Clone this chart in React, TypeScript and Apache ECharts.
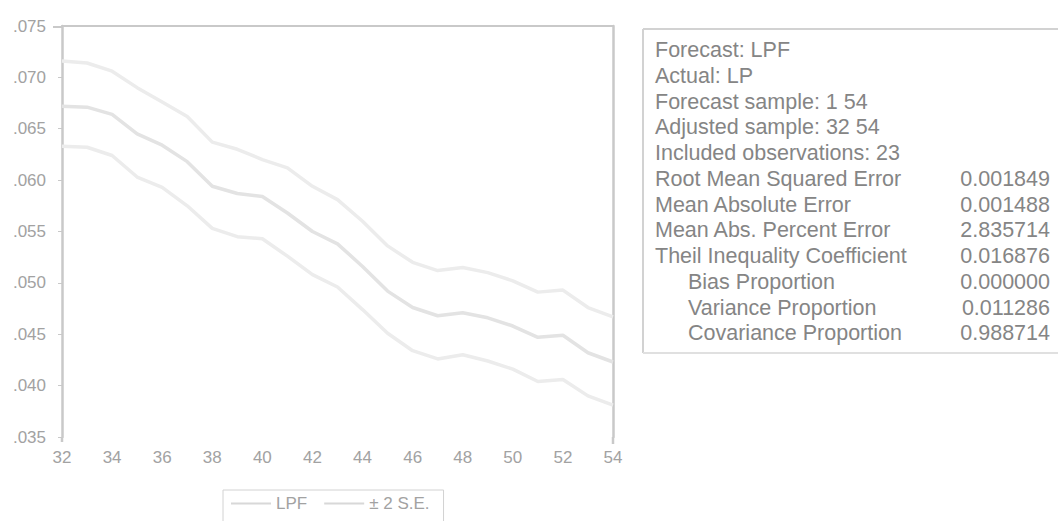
import React, { useEffect, useRef } from "react";
import * as echarts from "echarts";

// ---- data ----
const periods = [32, 33, 34, 35, 36, 37, 38, 39, 40, 41, 42, 43, 44, 45, 46, 47, 48, 49, 50, 51, 52, 53, 54];
const lpf = [0.0672, 0.0671, 0.0664, 0.0645, 0.0634, 0.0618, 0.0594, 0.0587, 0.0584, 0.0568, 0.055, 0.0538, 0.0516, 0.0492, 0.0476, 0.0468, 0.0471, 0.0466, 0.0458, 0.0447, 0.0449, 0.0432, 0.0423];
const upperSE = [0.0716, 0.0714, 0.0706, 0.069, 0.0676, 0.0662, 0.0637, 0.063, 0.062, 0.0612, 0.0594, 0.0581, 0.056, 0.0536, 0.052, 0.0512, 0.0515, 0.051, 0.0502, 0.0491, 0.0493, 0.0476, 0.0467];
const lowerSE = [0.0633, 0.0632, 0.0624, 0.0603, 0.0593, 0.0575, 0.0553, 0.0545, 0.0543, 0.0526, 0.0508, 0.0496, 0.0474, 0.0451, 0.0434, 0.0426, 0.043, 0.0424, 0.0416, 0.0404, 0.0406, 0.039, 0.0381];

const yMin = 0.035;
const yMax = 0.075;
const yStep = 0.005;
const xMin = 32;
const xMax = 54;
const xStep = 2;

const headerLines = [
  "Forecast: LPF",
  "Actual: LP",
  "Forecast sample: 1 54",
  "Adjusted sample: 32 54",
  "Included observations: 23",
];
const statLabels = [
  "Root Mean Squared Error",
  "Mean Absolute Error",
  "Mean Abs. Percent Error",
  "Theil Inequality Coefficient",
  "Bias Proportion",
  "Variance Proportion",
  "Covariance Proportion",
];
const statIndented = [false, false, false, false, true, true, true];
const statValues = ["0.001849", "0.001488", "2.835714", "0.016876", "0.000000", "0.011286", "0.988714"];

const seriesNames = ["LPF", "± 2 S.E."];

export default function App() {
  const ref = useRef<HTMLDivElement>(null);

  useEffect(() => {
    if (!ref.current) return;
    const chart = echarts.init(ref.current, undefined, { renderer: "svg" });
    const font = "'Liberation Sans', Arial, sans-serif";
    const axisGrey = "#c9c9c9";
    const labelGrey = "#a2a2a2";
    const textGrey = "#858585";
    const statFont = `21.5px ${font}`;

    const graphics: any[] = [];
    // stats box borders
    graphics.push(
      { type: "line", shape: { x1: 643, y1: 29, x2: 1058, y2: 29 }, style: { stroke: "#d2d2d2", lineWidth: 2 } },
      { type: "line", shape: { x1: 643, y1: 29, x2: 643, y2: 353 }, style: { stroke: "#d2d2d2", lineWidth: 2 } },
      { type: "line", shape: { x1: 643, y1: 353, x2: 1058, y2: 353 }, style: { stroke: "#e0e0e0", lineWidth: 2 } },
      { type: "line", shape: { x1: 53, y1: 27, x2: 62, y2: 27 }, style: { stroke: axisGrey, lineWidth: 2 } },
      { type: "line", shape: { x1: 62, y1: 437, x2: 62, y2: 442 }, style: { stroke: axisGrey, lineWidth: 2.5 } },
      { type: "line", shape: { x1: 613, y1: 437, x2: 613, y2: 444 }, style: { stroke: axisGrey, lineWidth: 2.5 } }
    );
    const lineStart = 50;
    const lineGap = 25.75;
    headerLines.forEach((t, i) => {
      graphics.push({
        type: "text",
        x: 655,
        y: lineStart + i * lineGap,
        style: { text: t, fill: textGrey, font: statFont, textVerticalAlign: "middle", verticalAlign: "middle" },
      });
    });
    statLabels.forEach((t, i) => {
      const y = lineStart + (headerLines.length + i) * lineGap;
      graphics.push({
        type: "text",
        x: statIndented[i] ? 688 : 655,
        y,
        style: { text: t, fill: textGrey, font: statFont, textVerticalAlign: "middle", verticalAlign: "middle" },
      });
      graphics.push({
        type: "text",
        x: 1050,
        y,
        style: {
          text: statValues[i],
          fill: textGrey,
          font: statFont,
          textAlign: "right",
          align: "right",
          textVerticalAlign: "middle",
          verticalAlign: "middle",
        },
      });
    });

    const bandStyle = { color: "#ececec", width: 3.5 };
    chart.setOption({
      animation: false,
      backgroundColor: "#ffffff",
      grid: { left: 62, top: 26, width: 551, height: 411, containLabel: false },
      legend: {
        data: seriesNames,
        left: 223,
        top: 490,
        orient: "horizontal",
        borderColor: "#d2d2d2",
        borderWidth: 1,
        padding: [5, 14, 14, 8],
        itemWidth: 40,
        itemHeight: 2,
        itemGap: 17,
        icon: "rect",
        textStyle: { fontSize: 17, color: labelGrey, fontFamily: font },
      },
      xAxis: [
        {
          type: "value",
          min: xMin,
          max: xMax,
          interval: xStep,
          axisLine: { show: false },
          axisTick: { show: false },
          splitLine: { show: false },
          axisLabel: { fontSize: 17, color: labelGrey, fontFamily: font, margin: 12 },
        },
        {
          type: "value",
          position: "top",
          min: xMin,
          max: xMax,
          axisLine: { show: true, lineStyle: { color: axisGrey, width: 2 } },
          axisTick: { show: false },
          axisLabel: { show: false },
          splitLine: { show: false },
        },
      ],
      yAxis: [
        {
          type: "value",
          min: yMin,
          max: yMax,
          interval: yStep,
          axisLine: { show: true, lineStyle: { color: axisGrey, width: 2.5 } },
          axisTick: { show: true, length: 4, lineStyle: { color: axisGrey } },
          splitLine: { show: false },
          axisLabel: {
            fontSize: 17,
            color: labelGrey,
            fontFamily: font,
            margin: 16,
            formatter: (v: number) => v.toFixed(3).slice(1),
          },
        },
        {
          type: "value",
          position: "right",
          min: yMin,
          max: yMax,
          axisLine: { show: true, lineStyle: { color: axisGrey, width: 2.5 } },
          axisTick: { show: false },
          axisLabel: { show: false },
          splitLine: { show: false },
        },
      ],
      series: [
        {
          name: seriesNames[0],
          type: "line",
          data: periods.map((p, i) => [p, lpf[i]]),
          showSymbol: false,
          lineStyle: { color: "#e3e3e3", width: 3.5 },
          itemStyle: { color: "#d8d8d8" },
        },
        {
          name: seriesNames[1],
          type: "line",
          data: periods.map((p, i) => [p, upperSE[i]]),
          showSymbol: false,
          lineStyle: bandStyle,
          itemStyle: { color: "#d8d8d8" },
        },
        {
          name: seriesNames[1],
          type: "line",
          data: periods.map((p, i) => [p, lowerSE[i]]),
          showSymbol: false,
          lineStyle: bandStyle,
          itemStyle: { color: "#d8d8d8" },
        },
      ],
      graphic: graphics,
    });

    return () => chart.dispose();
  }, []);

  return (
    <div
      ref={ref}
      style={{ position: "fixed", left: 0, top: 0, width: 1058, height: 521, background: "#fff" }}
    />
  );
}
